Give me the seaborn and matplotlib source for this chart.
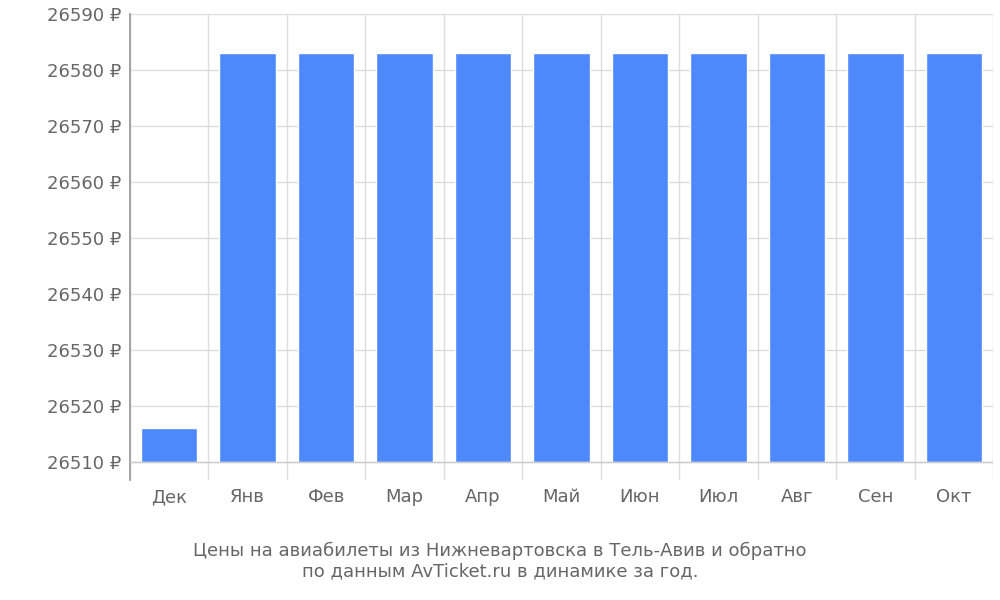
import matplotlib
matplotlib.use("Agg")
import matplotlib.pyplot as plt
import seaborn as sns
import pandas as pd

months = ["Дек", "Янв", "Фев", "Мар", "Апр", "Май", "Июн", "Июл", "Авг", "Сен", "Окт"]
prices = [26516, 26583, 26583, 26583, 26583, 26583, 26583, 26583, 26583, 26583, 26583]
base = 26510
yticks = [26510, 26520, 26530, 26540, 26550, 26560, 26570, 26580, 26590]

sns.set_theme(style="white")
plt.rcParams['font.family'] = ['DejaVu Sans']
df = pd.DataFrame({"m": months, "h": [p - base for p in prices]})

fig = plt.figure(figsize=(10, 6), dpi=100)
ax = fig.add_axes([0.13, 0.2, 0.863, 0.777])
sns.barplot(data=df, x="m", y="h", color="#4e89fb", saturation=1, width=0.72, ax=ax, zorder=3)
ax.set_ylim(-18 / 5.6, 80)
ax.set_xlim(-0.5, len(months) - 0.5)
ax.set_yticks([t - base for t in yticks])
ax.set_yticklabels([f"{t} ₽" for t in yticks], color="#666666", fontsize=13)
ax.tick_params(axis="x", colors="#666666", labelsize=13, length=0, pad=6)
ax.tick_params(axis="y", length=0, pad=6)
for t in ax.get_yticks():
    ax.axhline(t, color="#dddddd", lw=1, zorder=1)
for i in range(len(months) + 1):
    ax.axvline(i - 0.5, color="#dddddd", lw=1, zorder=1)
ax.axhline(0, color="#cccccc", lw=1, zorder=4)
for s in ["top", "right", "bottom"]:
    ax.spines[s].set_visible(False)
ax.spines["left"].set_color("#999999")
ax.set_xlabel("")
ax.set_ylabel("")
fig.text(0.5, 0.065, "Цены на авиабилеты из Нижневартовска в Тель-Авив и обратно\nпо данным AvTicket.ru в динамике за год.",
         ha="center", va="center", color="#666666", fontsize=13, linespacing=1.2)
fig.savefig("out.png", dpi=100)
